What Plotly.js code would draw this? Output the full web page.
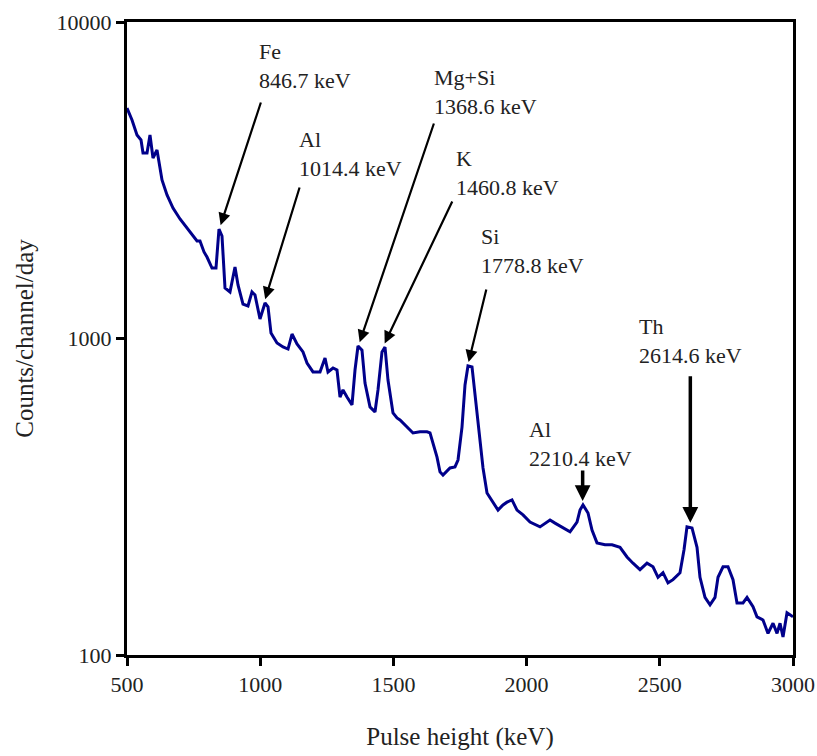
<!DOCTYPE html>
<html>
<head>
<meta charset="utf-8">
<script src="https://cdn.plot.ly/plotly-3.0.1.min.js"></script>
<style>html,body{margin:0;padding:0;background:#fff;}#chart{width:817px;height:756px;}</style>
</head>
<body>
<div id="chart"></div>
<script>
// Spectrum: pulse height (keV) and counts/channel/day
const energy = [500,518.8,537.5,552.6,560.1,575.1,586.3,597.6,612.6,631.4,650.2,672.7,699.0,725.2,747.8,762.8,774.0,789.1,800.3,819.1,834.1,845.3,856.6,867.9,886.6,905.4,916.7,935.4,954.2,969.2,980.5,999.3,1018.0,1029.3,1040.5,1063.1,1085.6,1104.4,1119.4,1138.1,1160.7,1175.7,1198.2,1224.5,1243.3,1254.5,1273.3,1288.3,1299.6,1310.8,1325.8,1344.6,1355.9,1367.1,1382.1,1393.4,1412.2,1430.9,1442.2,1457.2,1468.5,1479.7,1498.5,1513.5,1524.8,1551.1,1573.6,1599.9,1626.1,1637.4,1648.7,1663.7,1674.9,1686.2,1712.5,1731.2,1742.5,1757.5,1768.8,1780.0,1795.1,1802.6,1813.8,1825.1,1836.4,1851.4,1873.9,1892.7,1911.4,1926.4,1945.2,1964.0,1986.5,2012.8,2050.3,2087.9,2106.6,2136.7,2163.0,2189.2,2200.5,2211.7,2230.5,2245.5,2264.3,2294.3,2320.6,2350.6,2376.9,2399.4,2425.7,2452.0,2474.5,2493.3,2512.0,2530.8,2549.6,2575.8,2590.9,2602.1,2620.9,2639.7,2650.9,2669.7,2688.5,2707.2,2718.5,2737.3,2756.0,2774.8,2789.8,2812.3,2827.4,2849.9,2864.9,2887.4,2906.2,2925.0,2940.0,2951.3,2962.5,2977.5,3000];
const counts = [5350,4902,4395,4239,3855,3855,4395,3718,3940,3168,2841,2584,2386,2234,2108,2032,2032,1877,1809,1670,1670,2218,2108,1444,1403,1682,1476,1285,1267,1403,1372,1152,1295,1258,1041,968,940,926,1033,961,907,837,784,784,868,784,807,795,653,688,653,617,795,947,919,723,608,586,688,907,940,739,582,561,553,525,503,507,507,503,468,422,379,370,390,393,413,525,713,819,813,713,586,489,390,325,302,287,298,304,309,287,277,263,254,267,261,252,245,263,287,298,281,248,226,223,223,219,204,195,186,195,190,176,182,169,173,182,215,254,252,219,176,152,144,152,176,190,190,173,146,146,152,142,132,129,117,126,117,126,114,136,132];

// Peak labels
const peakNames = ["Fe","Al","Mg+Si","K","Si","Al","Th"];
const peakEnergies = [846.7,1014.4,1368.6,1460.8,1778.8,2210.4,2614.6];
const yTickVals = [100,1000,10000];
const yTickText = ["100","1000","10000"];
const xTickVals = [500,1000,1500,2000,2500,3000];

// presentation: arrow tails (px offsets), label boxes (px in page)
const arrowOff = [[42,-128],[36,-117],[76,-224],[70,-147],[19,-78],[0,-36],[0,-152]];
const arrowW = [2.2,2.2,2.2,2.2,2.2,3.5,3.5];
const labelPos = [[257,66],[297,154],[432,92],[454,173],[479,251],[527,444],[637,341]];

const L=127,R=24,T=22,B=101,W=817,H=756;
const pw=W-L-R, ph=H-T-B;

function peakTop(e){
  let m=0;
  for(let i=0;i<energy.length;i++){ if(Math.abs(energy[i]-e)<=16 && counts[i]>m) m=counts[i]; }
  return m;
}

const font = "Liberation Serif, Times New Roman, serif";
const annotations = [];
peakNames.forEach((n,i)=>{
  annotations.push({
    x: peakEnergies[i], y: Math.log10(peakTop(peakEnergies[i])), xref:'x', yref:'y',
    ax: arrowOff[i][0], ay: arrowOff[i][1], showarrow:true, text:'',
    arrowhead:2, arrowsize: i>=5?0.9:1.1, arrowwidth: arrowW[i], arrowcolor:'#000', standoff:4
  });
  annotations.push({
    xref:'paper', yref:'paper', x:(labelPos[i][0]-L)/pw, y:(H-B-labelPos[i][1])/ph,
    xanchor:'left', yanchor:'middle', align:'left', showarrow:false,
    text: n + '<br>' + peakEnergies[i].toFixed(1) + ' keV',
    font:{family:font, size:22, color:'#222'}
  });
});

Plotly.newPlot('chart', [{
  x: energy, y: counts, type:'scatter', mode:'lines',
  line:{color:'#00008b', width:3}, hoverinfo:'skip'
}], {
  width:W, height:H, margin:{l:L,r:R,t:T,b:B},
  paper_bgcolor:'#fff', plot_bgcolor:'#fff', showlegend:false,
  xaxis:{range:[500,3000], tickvals:xTickVals, showgrid:false, zeroline:false,
    showline:true, mirror:true, linewidth:3, linecolor:'#000',
    ticks:'outside', ticklen:8, tickwidth:3, tickcolor:'#000',
    tickfont:{family:font, size:22, color:'#222'},
    title:{text:'Pulse height (keV)', font:{family:font, size:25, color:'#222'}, standoff:32}},
  yaxis:{type:'log', range:[2,4], tickvals:yTickVals, ticktext:yTickText, showgrid:false, zeroline:false,
    showline:true, mirror:true, linewidth:3, linecolor:'#000',
    ticks:'outside', ticklen:8, tickwidth:3, tickcolor:'#000',
    tickfont:{family:font, size:22, color:'#222'},
    title:{text:'Counts/channel/day', font:{family:font, size:25, color:'#222'}, standoff:16}},
  annotations: annotations
}, {staticPlot:true});
</script>
</body>
</html>
